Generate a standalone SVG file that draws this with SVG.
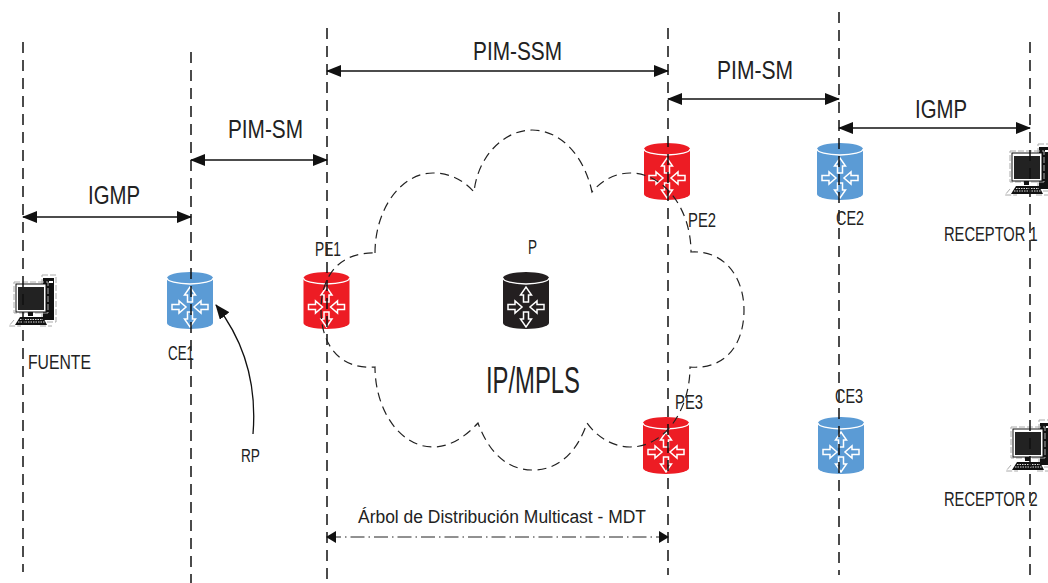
<svg xmlns="http://www.w3.org/2000/svg" width="1048" height="583" viewBox="0 0 1048 583">
<style>
text{font-family:"Liberation Sans",Arial,sans-serif;fill:#222}
.l{font-size:25px}.m{font-size:20px}.s{font-size:18px}.b{font-size:36px}
.v{fill:none;stroke:#111;stroke-width:1.5;stroke-dasharray:11 7}
.a{fill:none;stroke:#111;stroke-width:1.3;marker-start:url(#as);marker-end:url(#ae)}
.d{fill:none;stroke:#222;stroke-width:1;stroke-dasharray:14 4 1.500 4;marker-start:url(#ds);marker-end:url(#de)}
.cloud{fill:none;stroke:#222;stroke-width:1.2;stroke-dasharray:9 5.500}
.rg{fill:none;stroke:#fff;stroke-width:1.5;stroke-linejoin:miter}
.gd{fill:none;stroke:#aaa;stroke-width:1;stroke-dasharray:6 2}
</style>
<defs>
<marker id="ae" markerWidth="15" markerHeight="12" refX="14" refY="6" orient="auto" markerUnits="userSpaceOnUse"><path d="M0 0L15 6L0 12Z" fill="#111"/></marker>
<marker id="as" markerWidth="15" markerHeight="12" refX="1" refY="6" orient="auto" markerUnits="userSpaceOnUse"><path d="M15 0L0 6L15 12Z" fill="#111"/></marker>
<marker id="de" markerWidth="10" markerHeight="12" refX="9" refY="6" orient="auto" markerUnits="userSpaceOnUse"><path d="M0 0L10 6L0 12Z" fill="#111"/></marker>
<marker id="ds" markerWidth="10" markerHeight="12" refX="1" refY="6" orient="auto" markerUnits="userSpaceOnUse"><path d="M10 0L0 6L10 12Z" fill="#111"/></marker>
<g id="arrows">
<path class="rg" d="M-2.500 -5V-12H-5.500L0 -20L5.500 -12H2.500V-5Z"/>
<path class="rg" d="M-2.500 5V12H-5.500L0 20L5.500 12H2.500V5Z"/>
<path class="rg" d="M-18 -2.500H-11V-6L-4 0L-11 6V2.500H-18Z"/>
<path class="rg" d="M18 -2.500H11V-6L4 0L11 6V2.500H18Z"/>
</g>
<g id="router-body">
<path d="M-23 6A23 6 0 0 1 23 6V51A23 6 0 0 1 -23 51Z"/>
<path d="M-23 6A23 6 0 0 0 23 6" fill="none" stroke="#fff" stroke-width="1.300"/>
<use href="#arrows" transform="translate(0,35)"/>
</g>
<g id="pc">
<rect class="gd" x="42" y="275" width="14" height="47"/>
<rect x="43" y="278" width="11" height="42" fill="#111"/>
<rect x="49" y="281" width="4" height="2" fill="#fff"/>
<rect class="gd" x="14" y="282" width="34" height="31" fill="#fff"/>
<rect x="16" y="284" width="30" height="28" fill="#fff" stroke="#111" stroke-width="1"/>
<rect x="18" y="287" width="26" height="23" fill="#222"/>
<rect x="28" y="312" width="5" height="4" fill="#111"/>
<path d="M20 317H43L47 325H15Z" fill="#111"/>
<path d="M20 319.500H43M18 322H45" stroke="#ddd" stroke-width="1" stroke-dasharray="1.500 1"/>
<path class="gd" d="M14 320L9 326H21M40 326H52"/>
</g>
</defs>

<g id="nodes">
<g id="FUENTE"><use href="#pc"/></g>
<g id="RECEPTOR1"><use href="#pc" transform="translate(996,-131)"/></g>
<g id="RECEPTOR2"><use href="#pc" transform="translate(997,145)"/></g>
<g id="CE1"><use href="#router-body" fill="#5b9bd5" transform="translate(190,272)"/></g>
<g id="PE1"><use href="#router-body" fill="#ed1c24" transform="translate(326.500,272)"/></g>
<g id="P"><use href="#router-body" fill="#231f20" transform="translate(526,272)"/></g>
<g id="PE2"><use href="#router-body" fill="#ed1c24" transform="translate(667,143)"/></g>
<g id="PE3"><use href="#router-body" fill="#ed1c24" transform="translate(666,417)"/></g>
<g id="CE2"><use href="#router-body" fill="#5b9bd5" transform="translate(840,143)"/></g>
<g id="CE3"><use href="#router-body" fill="#5b9bd5" transform="translate(841,417)"/></g>
</g>

<g id="connectors">
<path class="v" d="M23 42V572"/>
<path class="v" d="M191 52V583"/>
<path class="v" d="M327 28V583"/>
<path class="v" d="M668 28V575"/>
<path class="v" d="M839 12V575"/>
<path class="v" d="M1030 42V575"/>
<path class="a" d="M23 217H191"/>
<path class="a" d="M191 160H327"/>
<path class="a" d="M327 71H668"/>
<path class="a" d="M668 99H839"/>
<path class="a" d="M839 128H1030"/>
<path class="d" d="M327 537H668"/>
<path d="M253 434C257 385 245 342 216 305" fill="none" stroke="#111" stroke-width="1.300" marker-end="url(#ae)"/>
<path class="cloud" d="M375 253C375 209 401 173 433 173C449 173 464 180 474 192C478 155 505 130 532 130C560 130 584 155 592 192C602 180 616 173 630 173C665 173 691 210 691 252C725 250 744 278 744 310C744 345 725 370 690 367C690 410 665 447 630 447C613 447 597 437 587 423C578 450 560 470 533 470C505 470 488 450 478 423C465 437 450 447 433 447C400 447 375 410 375 367C340 370 321 345 321 310C321 275 340 252 375 253Z"/>
</g>

<g id="labels">
<text class="l" x="88" y="204" textLength="52" lengthAdjust="spacingAndGlyphs">IGMP</text>
<text class="l" x="228" y="138" textLength="75" lengthAdjust="spacingAndGlyphs">PIM-SM</text>
<text class="l" x="473" y="60" textLength="89" lengthAdjust="spacingAndGlyphs">PIM-SSM</text>
<text class="l" x="717" y="79" textLength="76" lengthAdjust="spacingAndGlyphs">PIM-SM</text>
<text class="l" x="915" y="118" textLength="52" lengthAdjust="spacingAndGlyphs">IGMP</text>
<text class="m" x="28" y="369" textLength="63" lengthAdjust="spacingAndGlyphs">FUENTE</text>
<text class="m" x="168" y="360" textLength="26" lengthAdjust="spacingAndGlyphs">CE1</text>
<text class="s" x="241" y="462" textLength="19" lengthAdjust="spacingAndGlyphs">RP</text>
<text class="m" x="315" y="256" textLength="26" lengthAdjust="spacingAndGlyphs">PE1</text>
<text class="m" x="528" y="254" textLength="9" lengthAdjust="spacingAndGlyphs">P</text>
<text class="m" x="688" y="227" textLength="28" lengthAdjust="spacingAndGlyphs">PE2</text>
<text class="m" x="675" y="409" textLength="28" lengthAdjust="spacingAndGlyphs">PE3</text>
<text class="m" x="836" y="225" textLength="28" lengthAdjust="spacingAndGlyphs">CE2</text>
<text class="m" x="835" y="403" textLength="28" lengthAdjust="spacingAndGlyphs">CE3</text>
<text class="m" transform="translate(944,241) scale(0.735,1)">RECEPTOR 1</text>
<text class="m" transform="translate(944,506) scale(0.735,1)">RECEPTOR 2</text>
<text class="b" x="486" y="393" textLength="94" lengthAdjust="spacingAndGlyphs">IP/MPLS</text>
<text class="s" x="358" y="523" textLength="288" lengthAdjust="spacingAndGlyphs">Árbol de Distribución Multicast - MDT</text>
</g>
</svg>
